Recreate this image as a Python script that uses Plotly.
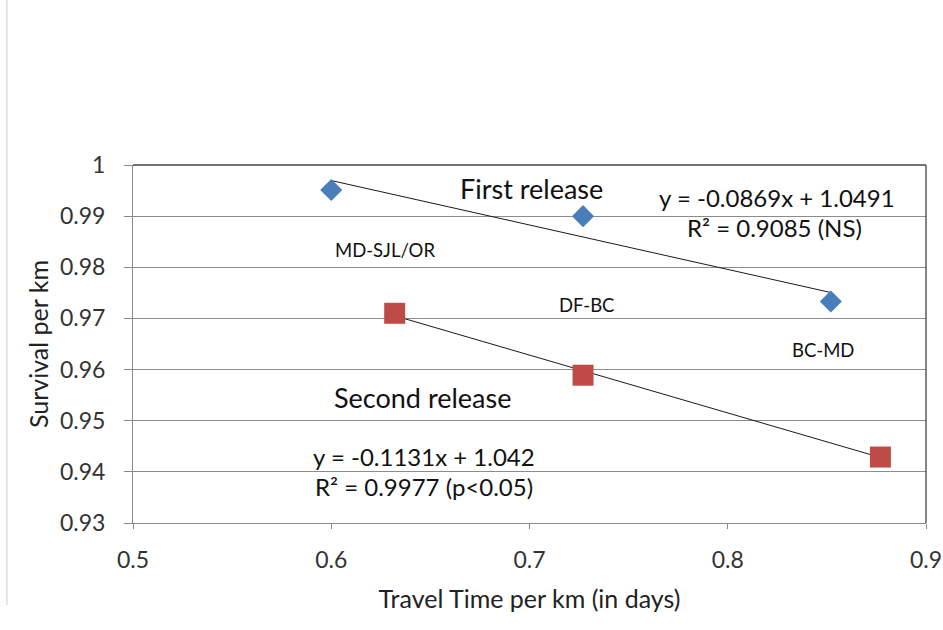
import plotly.graph_objects as go

# Travel time per km (days) and survival per km for the three reaches
reaches = ["MD-SJL/OR", "DF-BC", "BC-MD"]
first_time = [0.600, 0.727, 0.852]
first_surv = [0.9951, 0.9900, 0.9733]
second_time = [0.632, 0.727, 0.877]
second_surv = [0.9710, 0.9589, 0.9429]

# Linear trend fits: slope, intercept, R², significance
first_fit = (-0.0869, 1.0491, 0.9085, "(NS)")
second_fit = (-0.1131, 1.042, 0.9977, "(p<0.05)")

FONT = "Lato, 'Open Sans', sans-serif"

fig = go.Figure()


def trend(xs, fit):
    m, b = fit[0], fit[1]
    x0, x1 = min(xs), max(xs)
    return [x0, x1], [m * x0 + b, m * x1 + b]


for xs, fit in ((first_time, first_fit), (second_time, second_fit)):
    tx, ty = trend(xs, fit)
    fig.add_trace(go.Scatter(x=tx, y=ty, mode="lines",
                             line=dict(color="#1a1a1a", width=1),
                             showlegend=False, hoverinfo="skip"))

fig.add_trace(go.Scatter(x=first_time, y=first_surv, mode="markers",
                         name="First release",
                         marker=dict(symbol="diamond", size=17, color="#4A7EBB"),
                         showlegend=False))
fig.add_trace(go.Scatter(x=second_time, y=second_surv, mode="markers",
                         name="Second release",
                         marker=dict(symbol="square", size=21, color="#BE4B48"),
                         showlegend=False))


def ann(x, y, text, size):
    fig.add_annotation(x=x, y=y, xref="x", yref="y", text=text, showarrow=False,
                       font=dict(family=FONT, size=size, color="#111111"))


# Reach labels
ann(0.6271, 0.9834, reaches[0], 18.5)
ann(0.7285, 0.9726, reaches[1], 18.5)
ann(0.8480, 0.9638, reaches[2], 18.5)

# Release labels and regression equations
ann(0.7010, 0.9955, "First release", 27)
ann(0.8246, 0.9937, "y = %.4fx + %.4f" % (first_fit[0], first_fit[1]), 24)
ann(0.8235, 0.9877, "R² = %.4f %s" % (first_fit[2], first_fit[3]), 24)
ann(0.6458, 0.9545, "Second release", 27)
ann(0.6468, 0.9431, "y = %.4fx + %s" % (second_fit[0], second_fit[1]), 24)
ann(0.6468, 0.9371, "R² = %.4f %s" % (second_fit[2], second_fit[3]), 24)

fig.update_layout(
    width=943, height=630,
    margin=dict(l=133, r=17, t=165, b=107),
    paper_bgcolor="white", plot_bgcolor="white",
    font=dict(family=FONT, color="#222222"),
    xaxis=dict(range=[0.5, 0.9], dtick=0.1, tickformat=".1f",
               showgrid=False, zeroline=False, automargin=False,
               showline=True, linecolor="#8a8a8a", linewidth=1,
               ticks="outside", ticklen=5, tickcolor="#8a8a8a",
               ticklabelstandoff=11,
               tickfont=dict(size=23, color="#333333"),
               title=dict(text="Travel Time per km (in days)",
                          font=dict(size=25, color="#222222"), standoff=18)),
    yaxis=dict(range=[0.93, 1.0],
               tickvals=[0.93, 0.94, 0.95, 0.96, 0.97, 0.98, 0.99, 1.0],
               ticktext=["0.93", "0.94", "0.95", "0.96", "0.97", "0.98", "0.99", "1"],
               showgrid=True, gridcolor="#8c8c8c", gridwidth=1, zeroline=False,
               showline=True, linecolor="#8a8a8a", linewidth=1,
               ticks="outside", ticklen=8, tickcolor="#8a8a8a",
               ticklabelstandoff=14,
               tickfont=dict(size=23, color="#333333"),
               title=dict(text="Survival per km",
                          font=dict(size=25, color="#222222"), standoff=4)),
)

# Dark frame on the top and right sides of the plot area
fig.add_shape(type="line", xref="paper", yref="paper", x0=0, x1=1, y0=1, y1=1,
              line=dict(color="#444444", width=1.3))
fig.add_shape(type="line", xref="paper", yref="paper", x0=1, x1=1, y0=0, y1=1,
              line=dict(color="#444444", width=1.3))

# Light border line at the left edge of the chart area
fig.add_shape(type="line", xref="paper", yref="paper",
              x0=-0.159, x1=-0.159, y0=-0.229, y1=1.461,
              line=dict(color="#cccccc", width=1))

fig.write_html("out.html")
